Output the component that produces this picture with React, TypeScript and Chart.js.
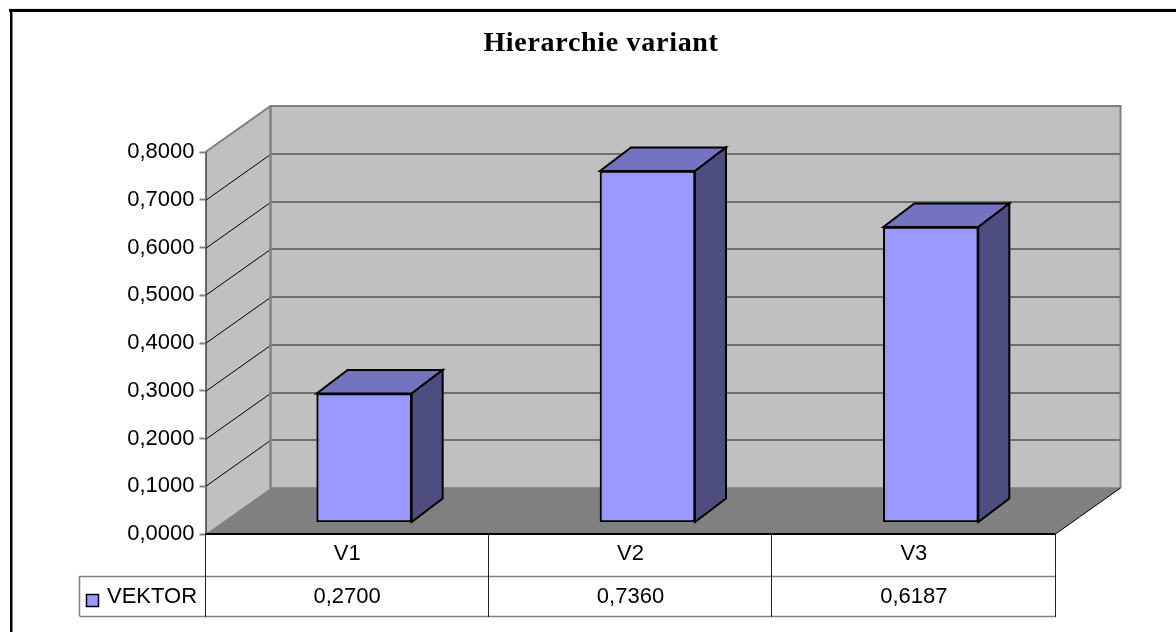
import React, { useEffect, useRef } from "react";
import { Chart, registerables } from "chart.js";

Chart.register(...registerables);

const categories = ["V1", "V2", "V3"];
const seriesName = "VEKTOR";
const vektor = [0.27, 0.736, 0.6187];
const titleText = "Hierarchie variant";
const axisMax = 0.8;
const axisStep = 0.1;

const SANS = "'Liberation Sans', Arial, sans-serif";
const FONT_PX = 22;
const WALL_DX = 65;
const WALL_DY = 46;
const BAR_OFF_X = 17;
const BAR_OFF_Y = 11.5;
const BAR_DX = 31;
const BAR_DY = 23.5;
const fmt = (v: number) => v.toFixed(4).replace(".", ",");

const scene = {
  id: "scene",
  afterLayout(chart: any) {
    const tb = chart.titleBlock;
    if (tb) {
      // centre the title on the reference's centre line, not on the plot's
      tb.left = 26;
      tb.right = 1176;
      if (!tb.__spaced) {
        const draw = tb.draw.bind(tb);
        tb.draw = () => {
          chart.ctx.save();
          chart.ctx.letterSpacing = "0.7px";
          draw();
          chart.ctx.restore();
        };
        tb.__spaced = true;
      }
    }
  },
  beforeDraw(chart: any) {
    const { ctx, scales } = chart;
    const ys = scales.y;
    const L = chart.chartArea.left, R = chart.chartArea.right;
    const T = chart.chartArea.top, B = chart.chartArea.bottom;
    ctx.save();
    // frame
    ctx.fillStyle = "#e4e4e4"; ctx.fillRect(9, 8, 1167, 1);
    ctx.fillStyle = "#000";
    ctx.fillRect(9, 9, 1167, 3);
    ctx.fillRect(10, 9, 2.5, 623);
    // back wall
    ctx.fillStyle = "#c0c0c0";
    ctx.fillRect(L + WALL_DX, T - WALL_DY, R - L, B - T);
    // side wall
    ctx.beginPath();
    ctx.moveTo(L, B); ctx.lineTo(L, T); ctx.lineTo(L + WALL_DX, T - WALL_DY); ctx.lineTo(L + WALL_DX, B - WALL_DY); ctx.closePath();
    ctx.fill();
    // floor
    ctx.fillStyle = "#808080";
    ctx.beginPath();
    ctx.moveTo(L, B); ctx.lineTo(R, B); ctx.lineTo(R + WALL_DX, B - WALL_DY); ctx.lineTo(L + WALL_DX, B - WALL_DY); ctx.closePath();
    ctx.fill();
    // grid lines
    for (const t of ys.ticks) {
      const y = Math.round(ys.getPixelForValue(t.value));
      if (t.value > 0 && t.value < axisMax - 1e-6) {
        ctx.strokeStyle = "#000"; ctx.lineWidth = 1;
        ctx.beginPath(); ctx.moveTo(L, y + 0.5); ctx.lineTo(L + WALL_DX, y - WALL_DY + 0.5); ctx.stroke();
        ctx.strokeStyle = "#555555"; ctx.lineWidth = 1.5;
        ctx.beginPath(); ctx.moveTo(L + WALL_DX, y - WALL_DY); ctx.lineTo(R + WALL_DX, y - WALL_DY); ctx.stroke();
      }
    }
    // wall outlines
    ctx.strokeStyle = "#808080"; ctx.lineWidth = 2;
    ctx.beginPath(); ctx.moveTo(L, T); ctx.lineTo(L + WALL_DX, T - WALL_DY); ctx.lineTo(R + WALL_DX, T - WALL_DY); ctx.lineTo(R + WALL_DX, B - WALL_DY); ctx.stroke();
    ctx.lineWidth = 2.5;
    ctx.beginPath(); ctx.moveTo(L + WALL_DX, T - WALL_DY); ctx.lineTo(L + WALL_DX, B - WALL_DY); ctx.stroke();
    ctx.lineWidth = 1.5;
    ctx.beginPath(); ctx.moveTo(L + WALL_DX, B - WALL_DY); ctx.lineTo(R + WALL_DX, B - WALL_DY); ctx.stroke();
    ctx.strokeStyle = "#000"; ctx.lineWidth = 1;
    ctx.beginPath(); ctx.moveTo(R, B); ctx.lineTo(R + WALL_DX, B - WALL_DY); ctx.stroke();
    ctx.beginPath(); ctx.moveTo(L + 0.5, T); ctx.lineTo(L + 0.5, B); ctx.stroke();
    ctx.restore();
  },
  beforeDatasetsDraw(chart: any) {
    const { ctx } = chart;
    ctx.save();
    chart.getDatasetMeta(0).data.forEach((bar: any) => {
      const half = bar.width / 2;
      const l = bar.x - half + BAR_OFF_X, r = bar.x + half + BAR_OFF_X;
      const t = bar.y - BAR_OFF_Y, b = bar.base - BAR_OFF_Y;
      ctx.strokeStyle = "#000"; ctx.lineWidth = 2; ctx.lineJoin = "miter";
      ctx.fillStyle = "#7373bf";
      ctx.beginPath();
      ctx.moveTo(l, t); ctx.lineTo(r, t); ctx.lineTo(r + BAR_DX, t - BAR_DY); ctx.lineTo(l + BAR_DX, t - BAR_DY); ctx.closePath();
      ctx.fill(); ctx.stroke();
      ctx.fillStyle = "#4d4d80";
      ctx.beginPath();
      ctx.moveTo(r, t); ctx.lineTo(r + BAR_DX, t - BAR_DY); ctx.lineTo(r + BAR_DX, b - BAR_DY); ctx.lineTo(r, b); ctx.closePath();
      ctx.fill(); ctx.stroke();
    });
    ctx.restore();
    ctx.save();
    ctx.translate(BAR_OFF_X, -BAR_OFF_Y);
  },
  afterDatasetsDraw(chart: any) {
    const { ctx, scales } = chart;
    ctx.restore();
    const xs = scales.x;
    const L = chart.chartArea.left, R = chart.chartArea.right, B = chart.chartArea.bottom;
    const ROW1 = 576, ROW2 = 616, KEY = 79.5;
    ctx.save();
    // axis base
    ctx.fillStyle = "#000";
    ctx.fillRect(L, B - 1, R - L, 2);
    // data table lines
    ctx.strokeStyle = "#808080"; ctx.lineWidth = 1.5;
    ctx.beginPath();
    ctx.moveTo(KEY, ROW1 + 0.5); ctx.lineTo(R, ROW1 + 0.5);
    ctx.moveTo(KEY, ROW2 + 0.5); ctx.lineTo(R, ROW2 + 0.5);
    ctx.moveTo(KEY, ROW1); ctx.lineTo(KEY, ROW2);
    ctx.stroke();
    ctx.strokeStyle = "#222"; ctx.lineWidth = 1;
    const cell = (R - L) / categories.length;
    ctx.beginPath();
    for (let i = 0; i <= categories.length; i++) {
      const x = Math.round(L + cell * i) - 0.5;
      ctx.moveTo(x, B); ctx.lineTo(x, ROW2 + 1);
    }
    ctx.stroke();
    // legend key
    ctx.fillStyle = "#9999ff"; ctx.strokeStyle = "#000"; ctx.lineWidth = 1.5;
    ctx.fillRect(86.5, 594.5, 12, 12); ctx.strokeRect(86.5, 594.5, 12, 12);
    // text
    ctx.fillStyle = "#000";
    ctx.font = `${FONT_PX}px ${SANS}`;
    ctx.textBaseline = "middle";
    ctx.textAlign = "left";
    ctx.fillText(seriesName, 107, 597);
    ctx.textAlign = "center";
    vektor.forEach((v, i) => ctx.fillText(fmt(v), xs.getPixelForValue(i), 597));
    ctx.restore();
  },
};

export default function App() {
  const ref = useRef<HTMLCanvasElement>(null);
  useEffect(() => {
    const chart = new Chart(ref.current as HTMLCanvasElement, {
      type: "bar",
      data: {
        labels: categories,
        datasets: [{
          label: seriesName,
          data: vektor,
          backgroundColor: "#9999ff",
          borderColor: "#000",
          borderWidth: 2,
          borderSkipped: false,
          barThickness: 95,
        }],
      },
      options: {
        responsive: false,
        animation: false,
        layout: { padding: { left: 26, right: 120.5, top: 0, bottom: 0 } },
        plugins: {
          legend: { display: false },
          tooltip: { enabled: false },
          title: {
            display: true,
            text: titleText,
            color: "#000",
            font: { family: "'Liberation Serif', 'Times New Roman', serif", size: 28, weight: "bold", lineHeight: 1.2 },
            padding: { top: 26.7, bottom: 91.7 },
          },
        },
        scales: {
          x: {
            grid: { display: false, drawTicks: false },
            border: { display: false },
            ticks: { color: "#000", font: { family: SANS, size: FONT_PX }, padding: 7, maxRotation: 0 },
            afterFit: (s: any) => { s.height = 98; },
          },
          y: {
            min: 0,
            max: axisMax,
            grid: { drawOnChartArea: false, color: "#808080", tickLength: 6, tickWidth: 2 } as any,
            border: { display: false },
            ticks: {
              stepSize: axisStep,
              color: "#000",
              font: { family: SANS, size: FONT_PX },
              padding: 5,
              callback: (v: any) => fmt(Number(v)),
            },
            afterFit: (s: any) => { s.width = 179.5; },
          },
        },
      },
      plugins: [scene],
    } as any);
    return () => chart.destroy();
  }, []);
  return (
    <div style={{ position: "fixed", inset: 0, background: "#fff" }}>
      <canvas ref={ref} width={1176} height={632} style={{ display: "block" }} />
    </div>
  );
}
